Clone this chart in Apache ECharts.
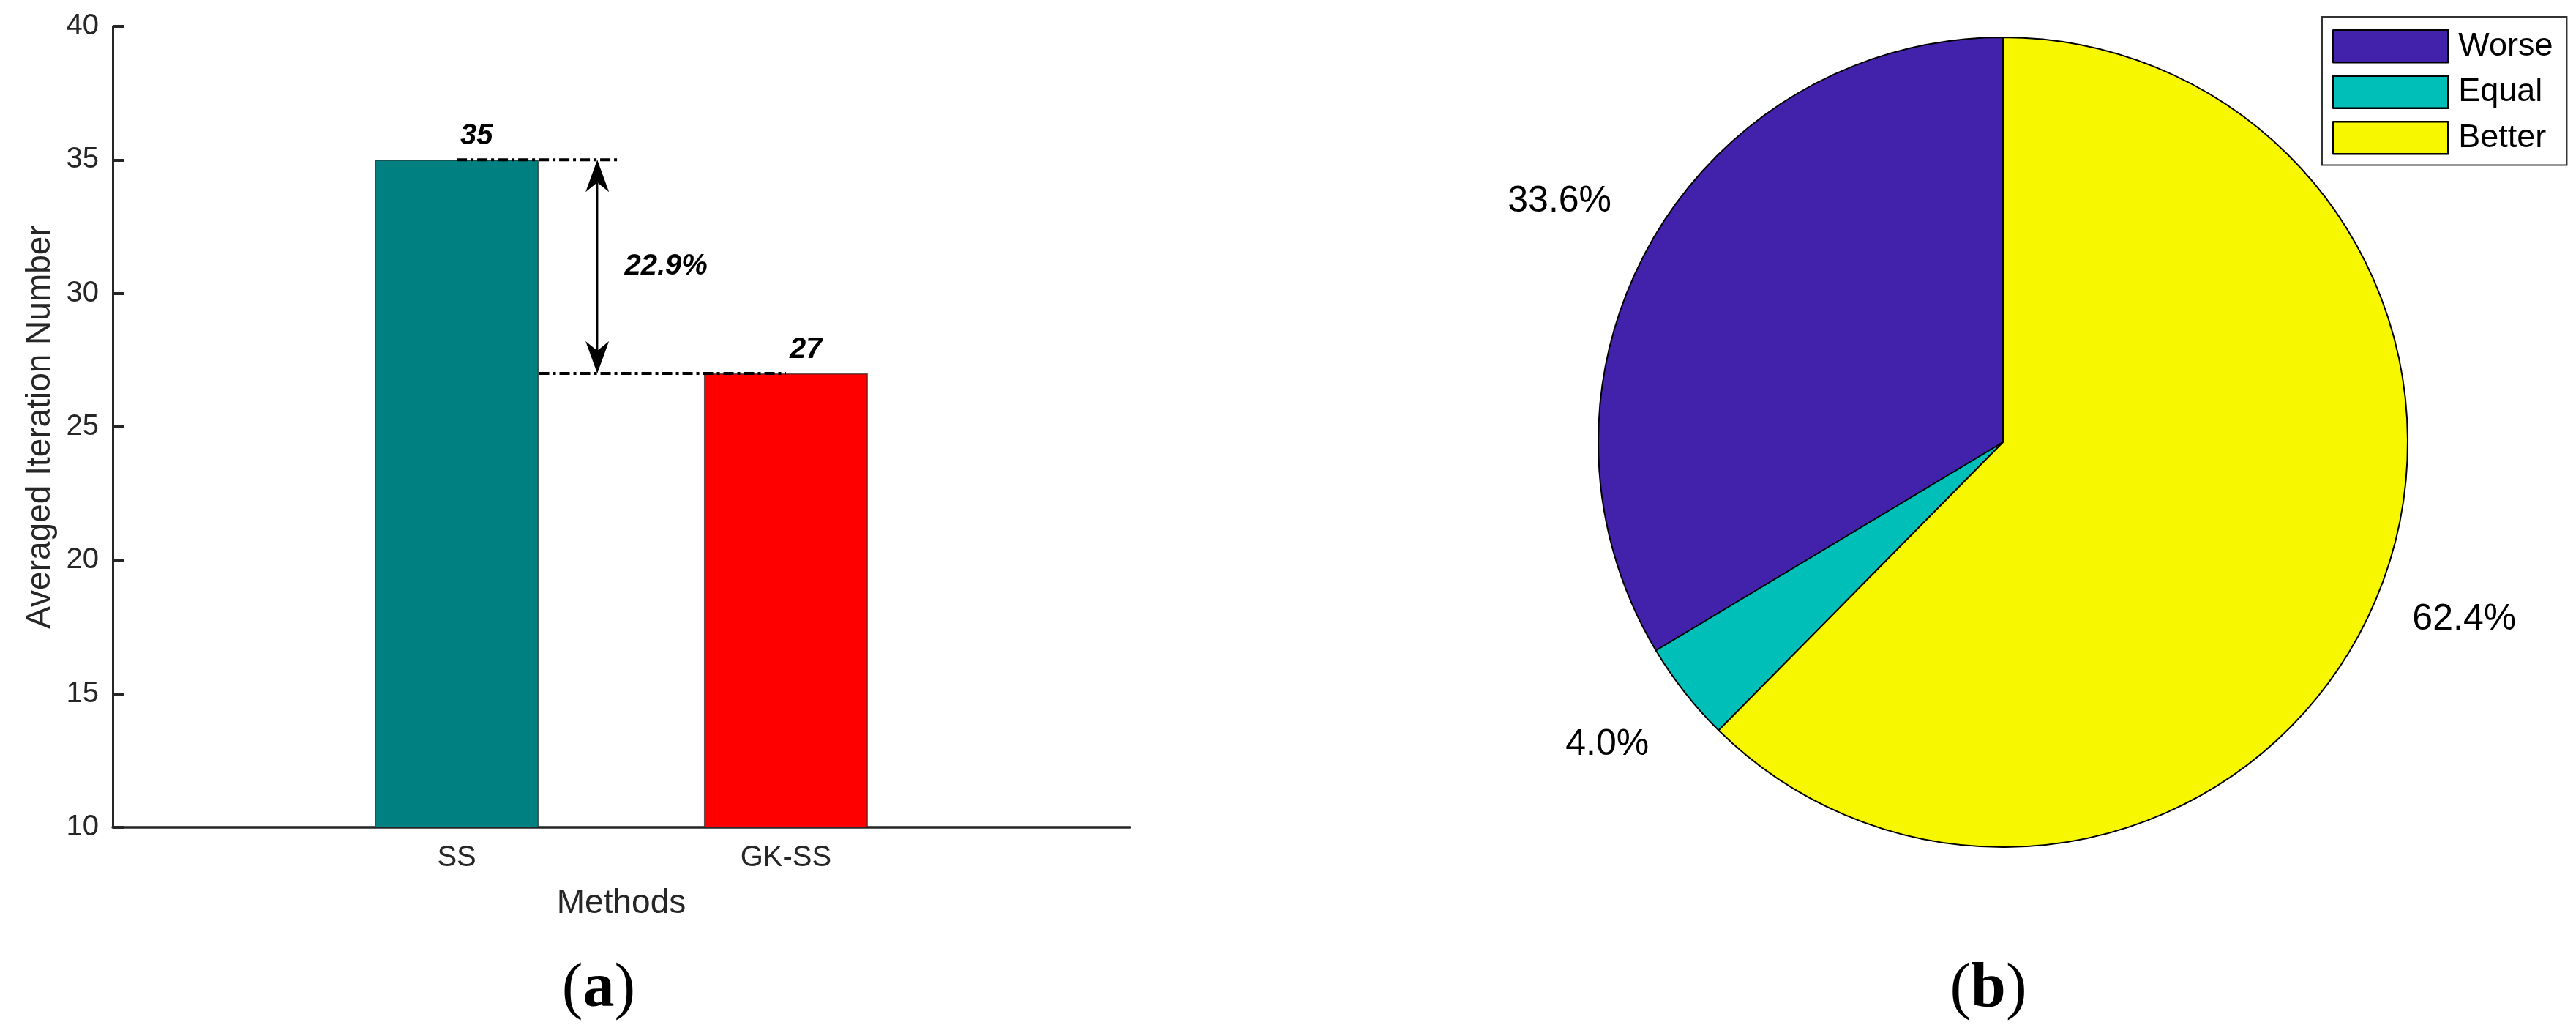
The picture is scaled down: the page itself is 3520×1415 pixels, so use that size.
<!DOCTYPE html>
<html>
<head>
<meta charset="utf-8">
<script src="https://cdn.jsdelivr.net/npm/echarts@6/dist/echarts.min.js"></script>
<style>
html,body{margin:0;padding:0;background:#fff;}
#chart{width:3520px;height:1415px;}
</style>
</head>
<body>
<div id="chart"></div>
<script>
// ---- Data (a): bar chart ----
const barCategories = ['SS', 'GK-SS'];
const barPositions = [1, 2];
const barValues = [35, 27];
const barColors = ['#008080', '#FF0000'];
const yTicks = { min: 10, max: 40, interval: 5 };

// annotation (dash-dot reference lines, arrow and percentage)
const refLineTop = [[1, 35], [1.5, 35]];
const refLineBottom = [[1.25, 27], [2, 27]];
const arrowSpec = [[1.427, 35, 27]];
const diffLabel = [[1.51, 31, '22.9%']];

// ---- Data (b): pie chart ----
const pieNames = ['Worse', 'Equal', 'Better'];
const pieValues = [33.6, 4.0, 62.4];
const pieColors = ['#4222AA', '#00BFB8', '#F7F700'];
const pieLabelShift = [[0, -29], [0, 37], [-9, 11]];

const SANS = '"Liberation Sans", Arial, Helvetica, sans-serif';
const SERIF = '"Liberation Serif", "Times New Roman", serif';
const AX = '#262626';

const chart = echarts.init(document.getElementById('chart'), null, { renderer: 'canvas' });

const option = {
  animation: false,
  backgroundColor: '#ffffff',
  grid: { left: 154, top: 36, width: 1390, height: 1094 },
  xAxis: {
    type: 'value', min: -0.045, max: 3.045,
    name: 'Methods', nameLocation: 'middle', nameGap: 81,
    nameTextStyle: { fontFamily: SANS, fontSize: 46, color: AX },
    axisLine: { show: true, onZero: false, lineStyle: { color: AX, width: 3.5 } },
    axisTick: { show: false },
    splitLine: { show: false },
    axisLabel: {
      customValues: barPositions,
      formatter: v => barCategories[Math.round(v) - 1] || '',
      fontFamily: SANS, fontSize: 40, color: AX, margin: 22
    }
  },
  yAxis: {
    type: 'value', min: yTicks.min, max: yTicks.max, interval: yTicks.interval,
    name: 'Averaged Iteration Number', nameLocation: 'middle', nameGap: 76,
    nameTextStyle: { fontFamily: SANS, fontSize: 46, color: AX },
    axisLine: { show: true, onZero: false, lineStyle: { color: AX, width: 3 } },
    axisTick: { show: true, inside: true, length: 15, lineStyle: { color: AX, width: 4 } },
    splitLine: { show: false },
    axisLabel: { fontFamily: SANS, fontSize: 40, color: AX, margin: 19 }
  },
  legend: {
    data: pieNames,
    orient: 'vertical',
    left: 3173, top: 23,
    padding: [17, 19, 14, 14],
    itemWidth: 157, itemHeight: 44, itemGap: 16,
    icon: 'rect',
    selectedMode: false,
    borderColor: '#333', borderWidth: 2,
    backgroundColor: '#fff',
    itemStyle: { borderColor: '#000', borderWidth: 2.5 },
    textStyle: { fontFamily: SANS, fontSize: 45, color: '#000', padding: [0, 0, 0, 9] }
  },
  graphic: [
    { type: 'text', x: 818, y: 1352, style: {
        text: '{p|(}{b|a}{p|)}', align: 'center', verticalAlign: 'middle',
        rich: { p: { fontFamily: SERIF, fontSize: 86, fill: '#000' },
                b: { fontFamily: SERIF, fontSize: 86, fontWeight: 'bold', fill: '#000' } } } },
    { type: 'text', x: 2717, y: 1352, style: {
        text: '{p|(}{b|b}{p|)}', align: 'center', verticalAlign: 'middle',
        rich: { p: { fontFamily: SERIF, fontSize: 86, fill: '#000' },
                b: { fontFamily: SERIF, fontSize: 86, fontWeight: 'bold', fill: '#000' } } } }
  ],
  series: [
    {
      type: 'bar',
      barWidth: 224,
      clip: true,
      data: barPositions.map((x, i) => ({
        value: [x, barValues[i]],
        itemStyle: { color: barColors[i], borderColor: 'rgba(40,40,40,0.7)', borderWidth: 1.5 }
      })),
      label: {
        show: true, position: 'top', distance: 12, align: 'left', offset: [5, 0],
        fontFamily: SANS, fontSize: 40, fontWeight: 'bold', fontStyle: 'italic', color: '#000',
        formatter: p => String(p.value[1])
      },
      emphasis: { disabled: true },
      z: 2
    },
    {
      type: 'line', data: refLineTop, symbol: 'none', silent: true,
      lineStyle: { color: '#000', width: 4, type: [14, 5, 4, 5] }, z: 4
    },
    {
      type: 'line', data: refLineBottom, symbol: 'none', silent: true,
      lineStyle: { color: '#000', width: 4, type: [14, 5, 4, 5] }, z: 4
    },
    {
      type: 'custom', coordinateSystem: 'cartesian2d', silent: true, z: 5,
      data: arrowSpec,
      encode: { x: 0, y: [1, 2] },
      renderItem: function (params, api) {
        const a = api.coord([api.value(0), api.value(1)]);
        const b = api.coord([api.value(0), api.value(2)]);
        const L = 44, W = 16, N = 31;
        return {
          type: 'group',
          children: [
            { type: 'line', shape: { x1: a[0], y1: a[1] + N, x2: b[0], y2: b[1] - N },
              style: { stroke: '#000', lineWidth: 2.5 } },
            { type: 'polygon', shape: { points: [[a[0], a[1]], [a[0] - W, a[1] + L], [a[0], a[1] + N], [a[0] + W, a[1] + L]] },
              style: { fill: '#000' } },
            { type: 'polygon', shape: { points: [[b[0], b[1]], [b[0] - W, b[1] - L], [b[0], b[1] - N], [b[0] + W, b[1] - L]] },
              style: { fill: '#000' } }
          ]
        };
      }
    },
    {
      type: 'custom', coordinateSystem: 'cartesian2d', silent: true, z: 5,
      data: diffLabel,
      encode: { x: 0, y: 1 },
      renderItem: function (params, api) {
        const p = api.coord([api.value(0), api.value(1)]);
        return {
          type: 'text', x: p[0], y: p[1],
          style: { text: diffLabel[params.dataIndex][2], align: 'left', verticalAlign: 'middle',
                   fontFamily: SANS, fontSize: 40, fontWeight: 'bold', fontStyle: 'italic', fill: '#000' }
        };
      }
    },
    {
      type: 'pie',
      center: [2737, 604],
      radius: 553,
      startAngle: 90,
      clockwise: false,
      avoidLabelOverlap: false,
      silent: true,
      data: pieNames.map((n, i) => ({ name: n, value: pieValues[i], itemStyle: { color: pieColors[i] } })),
      itemStyle: { borderColor: '#000', borderWidth: 2 },
      label: {
        show: true, position: 'outside',
        fontFamily: SANS, fontSize: 50, color: '#000',
        formatter: p => p.value.toFixed(1) + '%'
      },
      labelLine: { show: false, length: 56, length2: 0 },
      labelLayout: function (params) {
        const s = pieLabelShift[params.dataIndex] || [0, 0];
        return { dx: s[0], dy: s[1] };
      },
      emphasis: { disabled: true }
    }
  ]
};

chart.setOption(option);
</script>
</body>
</html>
